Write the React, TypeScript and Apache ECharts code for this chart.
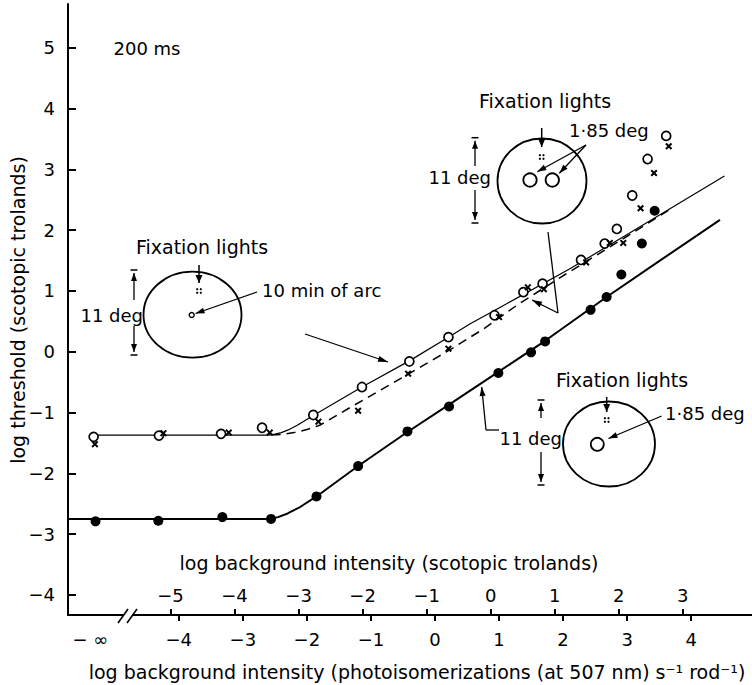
import React, { useEffect, useRef } from "react";
import * as echarts from "echarts";

// ---- axis ticks / labels ----
const yTicks = [-4, -3, -2, -1, 0, 1, 2, 3, 4, 5];
const photoTicks = [-4, -3, -2, -1, 0, 1, 2, 3, 4];
const minusInfPos = -5.38; // where the "−∞" label sits on the photoisomerization scale
const scotTicks = [-5, -4, -3, -2, -1, 0, 1, 2, 3];
const scotOffset = 0.87; // photoisomerization value of 0 scotopic trolands
const xMin = -5.73;
const xMax = 4.95;
const yMin = -4.33;
const yMax = 5.72;

// ---- data: open circles ----
const openX = [-5.33, -4.31, -3.34, -2.7, -1.9, -1.14, -0.4, 0.21, 0.93, 1.38, 1.68, 2.28, 2.65, 2.84, 3.08, 3.32, 3.61];
const openY = [-1.4, -1.38, -1.35, -1.25, -1.04, -0.58, -0.16, 0.24, 0.6, 0.98, 1.12, 1.51, 1.78, 2.02, 2.57, 3.17, 3.55];

// ---- data: crosses ----
const crossX = [-5.31, -4.24, -3.22, -2.58, -1.82, -1.2, -0.42, 0.21, 1.0, 1.45, 1.7, 2.36, 2.73, 2.94, 3.21, 3.42, 3.65];
const crossY = [-1.52, -1.34, -1.33, -1.33, -1.15, -0.97, -0.36, 0.05, 0.57, 1.06, 1.03, 1.47, 1.79, 1.79, 2.36, 2.94, 3.38];

// ---- data: filled circles ----
const filledX = [-5.3, -4.32, -3.32, -2.56, -1.85, -1.2, -0.43, 0.22, 0.99, 1.5, 1.72, 2.43, 2.68, 2.91, 3.23, 3.43];
const filledY = [-2.79, -2.78, -2.72, -2.75, -2.38, -1.88, -1.31, -0.9, -0.35, -0.01, 0.17, 0.69, 0.9, 1.27, 1.78, 2.32];

// ---- fitted curves ----
const upperCurveX = [-5.33, -3.5, -2.6, -2.5, -2.4, -2.3, -2.15, -1.9, -1.14, -0.4, 0.21, 0.55, 1.0, 2.1, 3.0, 4.52];
const upperCurveY = [-1.37, -1.37, -1.37, -1.355, -1.33, -1.29, -1.21, -1.05, -0.58, -0.15, 0.24, 0.46, 0.72, 1.36, 1.93, 2.89];
const dashedCurveX = [-2.55, -2.35, -2.2, -2.0, -1.8, -1.33, -0.42, 0.23, 0.75, 1.3, 2.0, 3.0, 3.7];
const dashedCurveY = [-1.37, -1.355, -1.33, -1.28, -1.21, -0.92, -0.37, 0.03, 0.37, 0.78, 1.25, 1.9, 2.36];
const lowerCurveX = [-5.73, -2.6, -2.45, -2.3, -2.1, -1.85, -1.2, -0.43, 0.22, 0.99, 1.72, 2.68, 3.5, 4.45];
const lowerCurveY = [-2.75, -2.75, -2.72, -2.66, -2.55, -2.38, -1.88, -1.32, -0.87, -0.33, 0.18, 0.9, 1.49, 2.17];

const FONT = "DejaVu Sans";
const zip = (xs: number[], ys: number[]) => xs.map((x, i) => [x, ys[i]]);
const fmt = (v: number) => (v < 0 ? "\u2212" + Math.abs(v) : String(v));
const crossSymbol = "path://M0,2L2,0L5,3L8,0L10,2L7,5L10,8L8,10L5,7L2,10L0,8L3,5Z";

type G = any;
const text = (t: string, x: number, y: number, align: string, size = 18, extra: any = {}): G => ({
  type: "text",
  x,
  y,
  silent: true,
  z: 20,
  ...extra,
  style: {
    text: t,
    fontSize: size,
    fontFamily: FONT,
    fill: "#000",
    align,
    textAlign: align,
    verticalAlign: "middle",
    textVerticalAlign: "middle",
  },
});
const seg = (x1: number, y1: number, x2: number, y2: number, w = 1.3): G => ({
  type: "line",
  silent: true,
  z: 20,
  shape: { x1, y1, x2, y2 },
  style: { stroke: "#000", lineWidth: w },
});
const head = (x1: number, y1: number, x2: number, y2: number, len = 8, hw = 3): G => {
  const dx = x2 - x1, dy = y2 - y1;
  const L = Math.hypot(dx, dy);
  const ux = dx / L, uy = dy / L;
  const bx = x2 - ux * len, by = y2 - uy * len;
  return {
    type: "polygon",
    silent: true,
    z: 20,
    shape: { points: [[x2, y2], [bx - uy * hw, by + ux * hw], [bx + uy * hw, by - ux * hw]] },
    style: { fill: "#000" },
  };
};
const arrow = (x1: number, y1: number, x2: number, y2: number, w = 1.3, len = 8, hw = 3): G[] => [
  seg(x1, y1, x2, y2, w),
  head(x1, y1, x2, y2, len, hw),
];
const ellipse = (cx: number, cy: number, rx: number, ry: number, w = 1.8): G => ({
  type: "ellipse",
  silent: true,
  z: 20,
  shape: { cx, cy, rx, ry },
  style: { fill: "none", stroke: "#000", lineWidth: w },
});
const ring = (cx: number, cy: number, r: number, w = 1.8): G => ({
  type: "circle",
  silent: true,
  z: 20,
  shape: { cx, cy, r },
  style: { fill: "#fff", stroke: "#000", lineWidth: w },
});
const dots = (cx: number, cy: number): G[] =>
  [[-1.8, -1.8], [1.8, -1.8], [-1.8, 1.8], [1.8, 1.8]].map(([dx, dy]) => ({
    type: "circle",
    silent: true,
    z: 20,
    shape: { cx: cx + dx, cy: cy + dy, r: 1.1 },
    style: { fill: "#000" },
  }));
const dimension = (x: number, top: number, topLineEnd: number, botLineStart: number, bottom: number): G[] => [
  seg(x - 3.5, top, x + 3.5, top, 1.5),
  ...arrow(x, topLineEnd, x, top + 3, 1.3, 8, 3),
  ...arrow(x, botLineStart, x, bottom - 3, 1.3, 8, 3),
  seg(x - 3.5, bottom, x + 3.5, bottom, 1.5),
];

function buildGraphics(): G[] {
  const g: G[] = [];
  // axis break on the abscissa
  g.push({ type: "rect", silent: true, z: 19, shape: { x: 123, y: 611, width: 9, height: 8 }, style: { fill: "#fff" } });
  g.push(seg(118, 623, 128, 609, 1.6));
  g.push(seg(127, 623, 137, 609, 1.6));

  g.push(text("200 ms", 147, 48, "center", 18));

  // axis titles
  g.push(text("log threshold (scotopic trolands)", 18, 310, "center", 19, { rotation: Math.PI / 2 }));
  g.push(text("log background intensity (scotopic trolands)", 389, 563, "center", 19));
  g.push(text("log background intensity (photoisomerizations (at 507 nm) s\u207B\u00B9 rod\u207B\u00B9)", 417, 672, "center", 19));

  // inset A: 10 min of arc
  g.push(text("Fixation lights", 202, 247, "center", 19));
  g.push(ellipse(192.5, 314.7, 49, 43));
  g.push(...arrow(199, 265, 199, 283, 1.5, 8, 3.5));
  g.push(...dots(199, 291));
  g.push(ring(191.7, 315, 2.5, 1.4));
  g.push(...arrow(257, 292, 195.5, 313.5, 1.3, 9, 3));
  g.push(text("10 min of arc", 262, 290, "left", 18));
  g.push(text("11 deg", 143, 315, "right", 18));
  g.push(...dimension(134, 270, 300, 326, 355));
  g.push(...arrow(305, 334, 388, 362, 1.3, 10, 3));

  // inset B: two 1.85 deg spots
  g.push(text("Fixation lights", 545, 101, "center", 19));
  g.push(ellipse(542, 181, 44.5, 42.5));
  g.push(...arrow(541.7, 128, 541.7, 147, 1.5, 8, 3.5));
  g.push(...dots(541.7, 157));
  g.push(ring(530, 180, 6.7));
  g.push(ring(552.3, 180, 6.7));
  g.push(text("1\u00B785 deg", 569, 130, "left", 18));
  g.push(...arrow(586, 145, 537.3, 171.7, 1.3, 9, 3));
  g.push(...arrow(586, 145, 559.3, 173.3, 1.3, 9, 3));
  g.push(text("11 deg", 491, 177, "right", 18));
  g.push(...dimension(475, 137.7, 166, 190, 223));
  g.push(seg(548, 232, 558, 313, 1.3));
  g.push(...arrow(558, 313, 532, 300, 1.3, 10, 3));

  // inset C: single 1.85 deg spot
  g.push(text("Fixation lights", 622, 380, "center", 19));
  g.push(ellipse(609, 444, 46, 42.5));
  g.push(...arrow(606.7, 397, 606.7, 412, 1.5, 8, 3.5));
  g.push(...dots(606.7, 420));
  g.push(ring(597.3, 444.3, 6.5));
  g.push(text("1\u00B785 deg", 665, 413, "left", 18));
  g.push(...arrow(661.7, 416, 608.5, 438.5, 1.3, 9, 3));
  g.push(text("11 deg", 562, 438, "right", 18));
  g.push(...dimension(541, 400, 418, 452, 485));
  g.push(seg(499, 430, 486, 430, 1.3));
  g.push(...arrow(486, 430, 481.7, 387, 1.3, 9, 3));

  return g;
}

export default function App() {
  const ref = useRef<HTMLDivElement>(null);
  useEffect(() => {
    if (!ref.current) return;
    const chart = echarts.init(ref.current, undefined, { renderer: "svg" });
    const axisLineStyle = { color: "#000", width: 2 };
    const labelStyle = { color: "#000", fontFamily: FONT, fontSize: 18 };
    chart.setOption({
      animation: false,
      backgroundColor: "#fff",
      grid: { left: 68, right: 0, top: 4, bottom: 70, containLabel: false },
      xAxis: [
        {
          type: "value",
          min: xMin,
          max: xMax,
          position: "bottom",
          axisLine: { show: true, onZero: false, lineStyle: axisLineStyle },
          axisTick: { show: true, inside: false, length: 6, customValues: photoTicks, lineStyle: { color: "#000", width: 2 } },
          axisLabel: {
            ...labelStyle,
            margin: 15,
            customValues: [minusInfPos, ...photoTicks],
            formatter: (v: number) => (v < -5 ? "\u2212 \u221E" : fmt(Math.round(v))),
          },
          splitLine: { show: false },
        },
        {
          type: "value",
          min: xMin - scotOffset,
          max: xMax - scotOffset,
          position: "bottom",
          axisLine: { show: false, onZero: false },
          axisTick: { show: true, inside: true, length: 6, customValues: scotTicks, lineStyle: { color: "#000", width: 2 } },
          axisLabel: { ...labelStyle, inside: true, margin: 11, customValues: scotTicks, formatter: (v: number) => fmt(Math.round(v)) },
          splitLine: { show: false },
        },
      ],
      yAxis: {
        type: "value",
        min: yMin,
        max: yMax,
        position: "left",
        axisLine: { show: true, onZero: false, lineStyle: axisLineStyle },
        axisTick: { show: true, inside: true, length: 8, customValues: yTicks, lineStyle: { color: "#000", width: 2 } },
        axisLabel: { ...labelStyle, margin: 13, customValues: yTicks, formatter: (v: number) => fmt(Math.round(v)) },
        splitLine: { show: false },
      },
      series: [
        {
          type: "line",
          data: zip(upperCurveX, upperCurveY),
          smooth: false,
          showSymbol: false,
          symbol: "none",
          lineStyle: { color: "#000", width: 1.2 },
          z: 2,
        },
        {
          type: "line",
          data: zip(dashedCurveX, dashedCurveY),
          smooth: false,
          showSymbol: false,
          symbol: "none",
          lineStyle: { color: "#000", width: 1.5, type: [9, 6] },
          z: 2,
        },
        {
          type: "line",
          data: zip(lowerCurveX, lowerCurveY),
          smooth: false,
          showSymbol: false,
          symbol: "none",
          lineStyle: { color: "#000", width: 2 },
          z: 2,
        },
        {
          type: "scatter",
          data: zip(openX, openY),
          symbol: "circle",
          symbolSize: 9,
          itemStyle: { color: "#fff", borderColor: "#000", borderWidth: 1.7, opacity: 1 },
          z: 3,
        },
        {
          type: "scatter",
          data: zip(crossX, crossY),
          symbol: crossSymbol,
          symbolSize: 7,
          itemStyle: { color: "#000", opacity: 1 },
          z: 4,
        },
        {
          type: "scatter",
          data: zip(filledX, filledY),
          symbol: "circle",
          symbolSize: 10,
          itemStyle: { color: "#000", opacity: 1 },
          z: 3,
        },
      ],
      graphic: buildGraphics(),
    });
    return () => chart.dispose();
  }, []);
  return (
    <div
      ref={ref}
      style={{ position: "fixed", left: 0, top: 0, width: 752, height: 685, background: "#fff" }}
    />
  );
}
